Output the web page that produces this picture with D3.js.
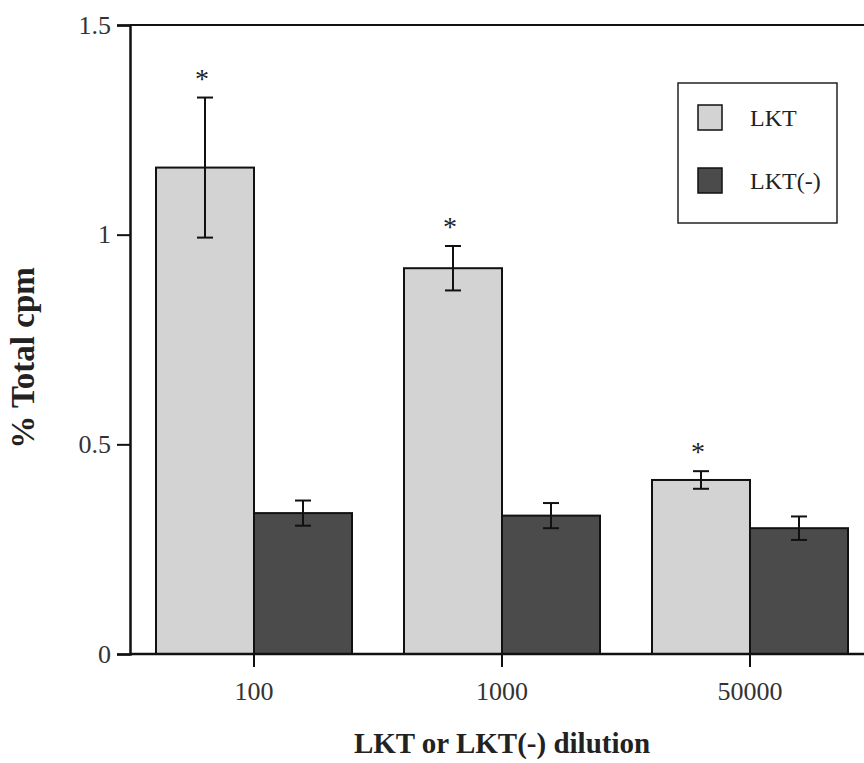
<!DOCTYPE html>
<html>
<head>
<meta charset="utf-8">
<script src="https://cdn.jsdelivr.net/npm/d3@7"></script>
<style>
  body { margin: 0; background: #fff; }
  text { font-family: "Liberation Serif", "Times New Roman", serif; }
</style>
</head>
<body>
<div class="chart"></div>
<script>
// data
const dilutions = ["100", "1000", "50000"];
const series = ["LKT", "LKT(-)"];
const lkt_mean = [1.16, 0.92, 0.415];
const lkt_err = [0.167, 0.053, 0.021];
const lktneg_mean = [0.336, 0.33, 0.3];
const lktneg_err = [0.03, 0.03, 0.028];
const significant = [true, true, true];
const y_ticks = [0, 0.5, 1, 1.5];

const colors = { "LKT": "#d3d3d3", "LKT(-)": "#4b4b4b" };

const W = 864, H = 763;
const margin = { top: 25, left: 130, bottom: 109 };

const svg = d3.select(".chart").append("svg")
    .attr("width", W)
    .attr("height", H);

// x: one band per dilution, last band runs past the right edge
const x_scale = d3.scaleBand()
    .domain(dilutions)
    .range([margin.left, margin.left + 3 * 248])
    .padding(0);

const y_scale = d3.scaleLinear()
    .domain([0, 1.5])
    .range([H - margin.bottom, margin.top]);

const bar_w = 98;

const rows = [];
dilutions.forEach(function(d, i) {
    rows.push({ dil: d, s: "LKT", v: lkt_mean[i], e: lkt_err[i], off: -bar_w, star: significant[i] });
    rows.push({ dil: d, s: "LKT(-)", v: lktneg_mean[i], e: lktneg_err[i], off: 0, star: false });
});
function cx(d) { return x_scale(d.dil) + x_scale.bandwidth() / 2; }

// bars
svg.selectAll("rect.bar")
    .data(rows)
    .enter()
    .append("rect")
    .attr("class", "bar")
    .attr("x", function(d) { return cx(d) + d.off; })
    .attr("y", function(d) { return y_scale(d.v); })
    .attr("width", bar_w)
    .attr("height", function(d) { return y_scale(0) - y_scale(d.v); })
    .attr("fill", function(d) { return colors[d.s]; })
    .attr("stroke", "#111")
    .attr("stroke-width", 2);

// error bars
const errs = svg.selectAll("g.err")
    .data(rows)
    .enter()
    .append("g")
    .attr("class", "err")
    .attr("stroke", "#111")
    .attr("stroke-width", 2);

errs.append("line")
    .attr("x1", function(d) { return cx(d) + d.off + bar_w / 2; })
    .attr("x2", function(d) { return cx(d) + d.off + bar_w / 2; })
    .attr("y1", function(d) { return y_scale(d.v - d.e); })
    .attr("y2", function(d) { return y_scale(d.v + d.e); });

[-1, 1].forEach(function(sign) {
    errs.append("line")
        .attr("x1", function(d) { return cx(d) + d.off + bar_w / 2 - 8; })
        .attr("x2", function(d) { return cx(d) + d.off + bar_w / 2 + 8; })
        .attr("y1", function(d) { return y_scale(d.v + sign * d.e); })
        .attr("y2", function(d) { return y_scale(d.v + sign * d.e); });
});

// significance stars
svg.selectAll("text.star")
    .data(rows.filter(function(d) { return d.star; }))
    .enter()
    .append("text")
    .attr("class", "star")
    .attr("x", function(d) { return cx(d) + d.off + bar_w / 2 - 3; })
    .attr("y", function(d) { return y_scale(d.v + d.e) - 10; })
    .attr("text-anchor", "middle")
    .attr("font-size", 28)
    .attr("fill", "#222")
    .text("*");

// axes
const y_axis = svg.append("g")
    .attr("transform", "translate(" + margin.left + ",0)")
    .call(d3.axisLeft(y_scale).tickValues(y_ticks).tickSize(13).tickPadding(6)
        .tickFormat(function(d) { return d === 0 ? "0" : String(d); }));

const x_axis = svg.append("g")
    .attr("transform", "translate(0," + y_scale(0) + ")")
    .call(d3.axisBottom(x_scale).tickSize(13).tickPadding(15).tickSizeOuter(0));

[y_axis, x_axis].forEach(function(a) {
    a.select(".domain").attr("stroke", "#111").attr("stroke-width", 2.5);
    a.selectAll(".tick line").attr("stroke", "#111").attr("stroke-width", 2);
    a.selectAll(".tick text")
        .attr("font-family", "Liberation Serif, serif")
        .attr("font-size", 26)
        .attr("fill", "#333");
});
x_axis.select(".domain").attr("d", "M" + margin.left + ",0H" + W);

// top frame line
svg.append("line")
    .attr("x1", margin.left).attr("x2", W)
    .attr("y1", y_scale(1.5)).attr("y2", y_scale(1.5))
    .attr("stroke", "#111").attr("stroke-width", 2);

// axis titles
svg.append("text")
    .attr("x", 502).attr("y", 753)
    .attr("text-anchor", "middle")
    .attr("font-size", 29)
    .attr("font-weight", "bold")
    .attr("fill", "#222")
    .text("LKT or LKT(-) dilution");

svg.append("text")
    .attr("transform", "translate(34,358) rotate(-90)")
    .attr("text-anchor", "middle")
    .attr("font-size", 33)
    .attr("font-weight", "bold")
    .attr("fill", "#222")
    .text("% Total cpm");

// legend
const legend = svg.append("g").attr("transform", "translate(678,83)");
legend.append("rect")
    .attr("width", 159).attr("height", 140)
    .attr("fill", "#fff").attr("stroke", "#222").attr("stroke-width", 1.5);

const items = legend.selectAll("g.item")
    .data(series)
    .enter()
    .append("g")
    .attr("class", "item")
    .attr("transform", function(d, i) { return "translate(20," + (22 + i * 63) + ")"; });

items.append("rect")
    .attr("width", 24).attr("height", 25)
    .attr("fill", function(d) { return colors[d]; })
    .attr("stroke", "#111").attr("stroke-width", 1.5);

items.append("text")
    .attr("x", 52).attr("y", 21)
    .attr("font-size", 24)
    .attr("fill", "#222")
    .text(function(d) { return d; });
</script>
</body>
</html>
